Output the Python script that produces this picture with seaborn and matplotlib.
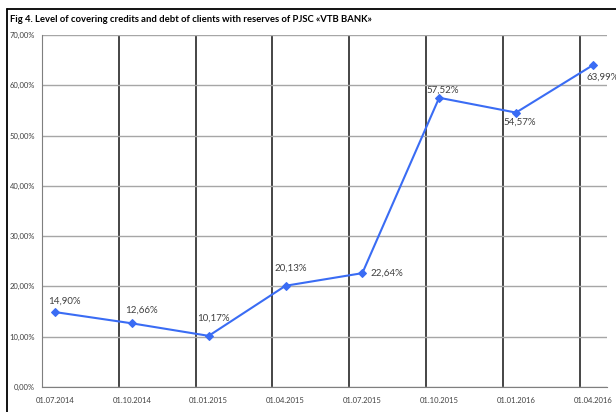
import numpy as np
import pandas as pd
import seaborn as sns
import matplotlib.pyplot as plt
from matplotlib.ticker import FuncFormatter
from matplotlib.lines import Line2D

# Data
dates = ['01.07.2014', '01.10.2014', '01.01.2015', '01.04.2015',
         '01.07.2015', '01.10.2015', '01.01.2016', '01.04.2016']
coverage = [14.90, 12.66, 10.17, 20.13, 22.64, 57.52, 54.57, 63.99]
# label offsets in pixels (dx, dy) and alignment
label_dx = [9, 10, 5, 5, 8, 4, 4, -6]
label_dy = [11, 13, 18, 18, 0, 8, -10, -12]
label_ha = ['center', 'center', 'center', 'center', 'left', 'center', 'center', 'left']

df = pd.DataFrame({'pos': np.arange(len(dates)), 'value': coverage, 'date': dates})

sns.set_style('white')
plt.rcParams['font.family'] = ['Lato', 'DejaVu Sans']

fig = plt.figure(figsize=(6.16, 4.12), dpi=100)
ax = fig.add_axes([42 / 616, 1 - 387 / 412, 565 / 616, 352 / 412])

line_color = '#3a6cf4'
sns.lineplot(data=df, x='pos', y='value', ax=ax, color=line_color, linewidth=1.5,
             marker='D', markersize=4.5, markeredgecolor=line_color)

ax.set_ylim(0, 70)
ax.set_xlim(-0.17, len(dates) - 1 + 0.185)

ax.set_yticks(np.arange(0, 71, 10))
ax.yaxis.set_major_formatter(FuncFormatter(lambda v, p: f'{v:.2f}%'.replace('.', ',')))
ax.set_xticks(df['pos'])
ax.set_xticklabels(dates)
ax.set_xticks(df['pos'] - 0.17, minor=True)

ax.tick_params(axis='y', length=0, pad=5, labelsize=5.5, labelcolor='#404040')
ax.tick_params(axis='x', which='major', length=0, pad=7, labelsize=5.5, labelcolor='#404040')
ax.tick_params(axis='x', which='minor', length=5, width=1.2, color='#262626')

ax.grid(axis='y', which='major', color='#a6a6a6', linewidth=1)
ax.grid(axis='x', which='minor', color='#262626', linewidth=1.2)
ax.grid(axis='x', which='major', visible=False)
ax.set_axisbelow(True)

for s in ['top', 'right']:
    ax.spines[s].set_visible(False)
ax.spines['left'].set_color('#7f7f7f')
ax.spines['bottom'].set_color('#7f7f7f')

ax.set_xlabel('')
ax.set_ylabel('')

for i, row in df.iterrows():
    ax.annotate(f'{row.value:.2f}%'.replace('.', ','), (row.pos, row.value),
                xytext=(label_dx[i], label_dy[i]), textcoords='offset pixels',
                ha=label_ha[i], va='center', fontsize=7, color='#404040')

# figure frame (left and top edges visible in the reference)
fig.add_artist(Line2D([7 / 616, 7 / 616], [0, 1 - 9 / 412], transform=fig.transFigure,
                      color='black', linewidth=1.3))
fig.add_artist(Line2D([7 / 616, 1], [1 - 9 / 412, 1 - 9 / 412], transform=fig.transFigure,
                      color='black', linewidth=1.3))

fig.text(10 / 616, 1 - 20 / 412,
         'Fig 4. Level of covering credits and debt of clients with reserves of PJSC «VTB BANK»',
         fontsize=6.8, fontweight='bold', va='center', ha='left', color='black')

fig.savefig('out.png', dpi=100)
